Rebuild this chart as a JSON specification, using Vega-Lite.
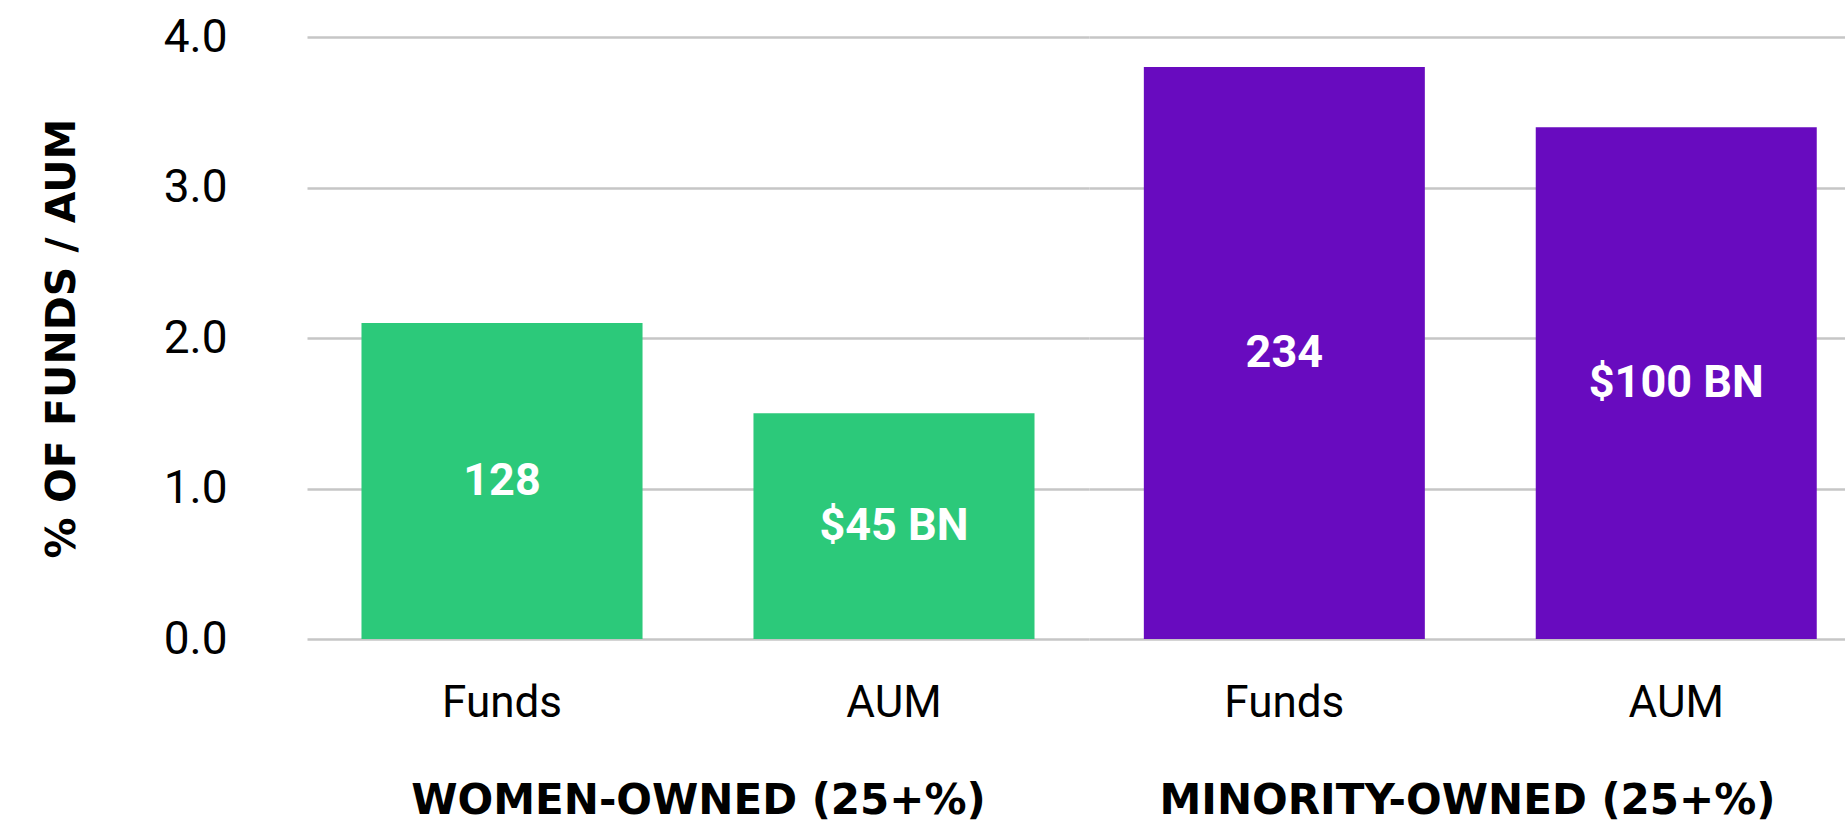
{
  "$schema": "https://vega.github.io/schema/vega-lite/v6.json",
  "padding": {"left": 41, "top": 14, "right": 0, "bottom": 12},
  "background": "white",
  "spacing": 0,
  "data": {
    "values": [
      {"group": "WOMEN-OWNED (25+%)", "metric": "Funds", "value": 2.1, "label": "128"},
      {"group": "WOMEN-OWNED (25+%)", "metric": "AUM", "value": 1.5, "label": "$45 BN"},
      {"group": "MINORITY-OWNED (25+%)", "metric": "Funds", "value": 3.8, "label": "234"},
      {"group": "MINORITY-OWNED (25+%)", "metric": "AUM", "value": 3.4, "label": "$100 BN"}
    ]
  },
  "hconcat": [
    {
      "width": 782,
      "height": 602,
      "transform": [{"filter": "datum.group === 'WOMEN-OWNED (25+%)'"}],
      "encoding": {
        "x": {
          "field": "metric",
          "type": "nominal",
          "sort": ["Funds", "AUM"],
          "scale": {"paddingInner": 0.283, "paddingOuter": 0.139, "align": 0.5},
          "axis": {"title": "WOMEN-OWNED (25+%)"}
        }
      },
      "layer": [
        {
          "mark": {"type": "bar"},
          "encoding": {
            "y": {
              "field": "value",
              "type": "quantitative",
              "scale": {"domain": [0, 4]},
              "axis": {
                "title": "% OF FUNDS / AUM",
                "titleFont": "DejaVu Sans",
                "titleFontWeight": "bold",
                "titleFontSize": 41,
                "titleColor": "#000000",
                "titlePadding": 80,
                "values": [0, 1, 2, 3, 4],
                "format": ".1f",
                "labelFont": "Roboto",
                "labelFontSize": 46,
                "labelColor": "#000000",
                "labelPadding": 80
              }
            },
            "color": {
              "field": "group",
              "type": "nominal",
              "scale": {
                "domain": ["WOMEN-OWNED (25+%)", "MINORITY-OWNED (25+%)"],
                "range": ["#2CC97A", "#680BBF"]
              },
              "legend": null
            }
          }
        },
        {
          "mark": {
            "type": "text",
            "font": "Roboto",
            "fontWeight": "bold",
            "fontSize": 45,
            "color": "#FFFFFF",
            "align": "center",
            "baseline": "middle"
          },
          "encoding": {
            "y": {
              "field": "value",
              "type": "quantitative",
              "scale": {"domain": [0, 8]},
              "axis": null
            },
            "text": {"field": "label", "type": "nominal"}
          }
        }
      ],
      "resolve": {"scale": {"y": "independent"}}
    },
    {
      "width": 756,
      "height": 602,
      "transform": [{"filter": "datum.group === 'MINORITY-OWNED (25+%)'"}],
      "encoding": {
        "x": {
          "field": "metric",
          "type": "nominal",
          "sort": ["Funds", "AUM"],
          "scale": {"paddingInner": 0.283, "paddingOuter": 0.106, "align": 0.66},
          "axis": {"title": "MINORITY-OWNED (25+%)"}
        }
      },
      "layer": [
        {
          "mark": {"type": "bar"},
          "encoding": {
            "y": {
              "field": "value",
              "type": "quantitative",
              "scale": {"domain": [0, 4]},
              "axis": {
                "title": null,
                "labels": false,
                "labelPadding": 0,
                "values": [0, 1, 2, 3, 4]
              }
            },
            "color": {
              "field": "group",
              "type": "nominal",
              "scale": {
                "domain": ["WOMEN-OWNED (25+%)", "MINORITY-OWNED (25+%)"],
                "range": ["#2CC97A", "#680BBF"]
              },
              "legend": null
            }
          }
        },
        {
          "mark": {
            "type": "text",
            "font": "Roboto",
            "fontWeight": "bold",
            "fontSize": 45,
            "color": "#FFFFFF",
            "align": "center",
            "baseline": "middle"
          },
          "encoding": {
            "y": {
              "field": "value",
              "type": "quantitative",
              "scale": {"domain": [0, 8]},
              "axis": null
            },
            "text": {"field": "label", "type": "nominal"}
          }
        }
      ],
      "resolve": {"scale": {"y": "independent"}}
    }
  ],
  "config": {
    "view": {"stroke": null},
    "axisY": {
      "domain": false,
      "ticks": false,
      "tickSize": 0,
      "grid": true,
      "gridColor": "#C6C6C6",
      "gridWidth": 2.5
    },
    "axisX": {
      "domain": false,
      "ticks": false,
      "tickSize": 0,
      "grid": false,
      "labelAngle": 0,
      "labelFont": "Roboto",
      "labelFontSize": 44,
      "labelColor": "#000000",
      "labelBaseline": "alphabetic",
      "labelPadding": 77,
      "titleFont": "DejaVu Sans",
      "titleFontWeight": "bold",
      "titleFontSize": 42,
      "titleColor": "#000000",
      "titleBaseline": "alphabetic",
      "titlePadding": 88
    }
  }
}
